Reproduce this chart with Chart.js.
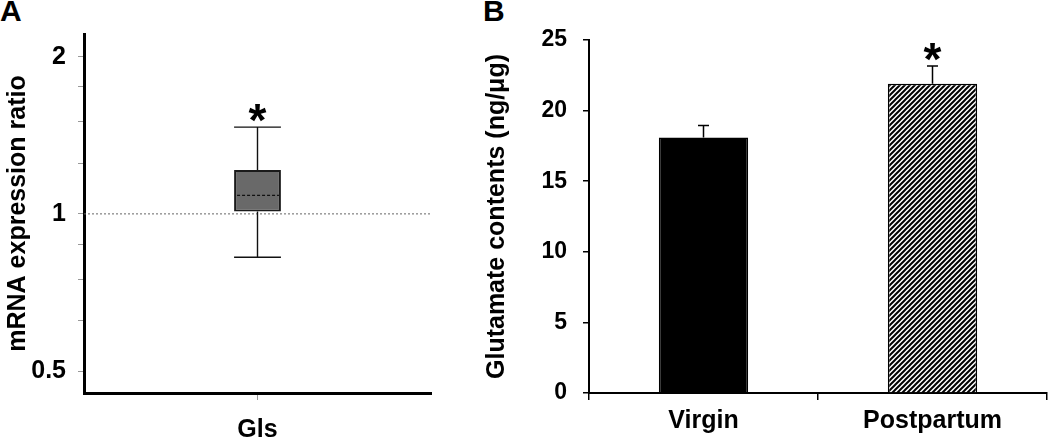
<!DOCTYPE html>
<html>
<head>
<meta charset="utf-8">
<script src="https://cdn.jsdelivr.net/npm/chart.js@4.4.0/dist/chart.umd.min.js"></script>
<style>
  body { margin: 0; background: #fff; width: 1050px; height: 438px; overflow: hidden; position: relative; font-family: "Liberation Sans", Arial, sans-serif; }
  canvas { position: absolute; top: 0; }
  #chartA { left: 0; }
  #chartB { left: 470px; }
  .panel { position: absolute; font-weight: bold; font-size: 30px; line-height: 30px; }
</style>
</head>
<body>
<div class="panel" style="left:0;top:-4px">A</div>
<div class="panel" style="left:483px;top:-4px">B</div>
<canvas id="chartA" width="450" height="438"></canvas>
<canvas id="chartB" width="580" height="438"></canvas>
<script>
// Panel A - box plot of mRNA expression ratio (log axis)
const geneLabels = ['Gls'];
const boxLow = [0.826];
const boxQ1 = [1.01];
const boxMedian = [1.085];
const boxQ3 = [1.214];
const boxHigh = [1.466];
const boxStars = [true];
const ratioRefLine = 1;
const ratioTicks = [0.5, 0.625, 0.75, 0.875, 1, 1.25, 1.5, 1.75, 2];
const ratioLabeled = [0.5, 1, 2];

// Panel B - glutamate contents, mean + SEM
const groupLabels = ['Virgin', 'Postpartum'];
const glutamateMean = [18.1, 21.9];
const glutamateSem = [0.85, 1.25];
const glutamateStars = [false, true];
const glutamateTicks = [0, 5, 10, 15, 20, 25];

const FONT = '"Liberation Sans", Arial, sans-serif';
Chart.defaults.font.family = FONT;
Chart.defaults.color = '#000';

function makeHatch() {
    const s = 5;
    const c = document.createElement('canvas');
    c.width = s; c.height = s;
    const g = c.getContext('2d');
    g.fillStyle = '#fff';
    g.fillRect(0, 0, s, s);
    g.strokeStyle = '#000';
    g.lineWidth = 2;
    g.beginPath();
    g.moveTo(-1, 1); g.lineTo(1, -1);
    g.moveTo(0, s); g.lineTo(s, 0);
    g.moveTo(s - 1, s + 1); g.lineTo(s + 1, s - 1);
    g.stroke();
    return g.createPattern(c, 'repeat');
}

function drawStar(ctx, x, yTop) {
    ctx.save();
    ctx.setLineDash([]);
    ctx.fillStyle = '#000';
    ctx.font = 'bold 46px ' + FONT;
    ctx.textAlign = 'center';
    ctx.textBaseline = 'alphabetic';
    ctx.fillText('*', x, yTop + 9);
    ctx.restore();
}

const boxPlugin = {
    id: 'boxParts',
    beforeDatasetsDraw(chart) {
        const { ctx, chartArea, scales: { y } } = chart;
        const py = y.getPixelForValue(ratioRefLine);
        ctx.save();
        ctx.strokeStyle = '#666';
        ctx.lineWidth = 1;
        ctx.setLineDash([2, 2]);
        ctx.beginPath();
        ctx.moveTo(chartArea.left, py);
        ctx.lineTo(chartArea.right, py);
        ctx.stroke();
        ctx.restore();
    },
    afterDatasetsDraw(chart) {
        const { ctx, scales: { y } } = chart;
        chart.getDatasetMeta(0).data.forEach((bar, i) => {
            const half = bar.width / 2;
            const top = y.getPixelForValue(boxQ3[i]);
            const bottom = y.getPixelForValue(boxQ1[i]);
            const hi = y.getPixelForValue(boxHigh[i]);
            const lo = y.getPixelForValue(boxLow[i]);
            const med = y.getPixelForValue(boxMedian[i]);
            ctx.save();
            ctx.strokeStyle = '#111';
            ctx.lineWidth = 1.4;
            ctx.beginPath();
            ctx.moveTo(bar.x, top); ctx.lineTo(bar.x, hi);
            ctx.moveTo(bar.x - half, hi); ctx.lineTo(bar.x + half, hi);
            ctx.moveTo(bar.x, bottom); ctx.lineTo(bar.x, lo);
            ctx.moveTo(bar.x - half, lo); ctx.lineTo(bar.x + half, lo);
            ctx.stroke();
            ctx.setLineDash([3, 2]);
            ctx.beginPath();
            ctx.moveTo(bar.x - half + 3, med);
            ctx.lineTo(bar.x + half - 2, med);
            ctx.stroke();
            if (boxStars[i]) drawStar(ctx, bar.x, hi);
            ctx.restore();
        });
    }
};

const errorPlugin = {
    id: 'errorBars',
    afterDatasetsDraw(chart) {
        const { ctx, scales: { y } } = chart;
        chart.getDatasetMeta(0).data.forEach((bar, i) => {
            const tip = y.getPixelForValue(glutamateMean[i] + glutamateSem[i]);
            ctx.save();
            ctx.strokeStyle = '#000';
            ctx.lineWidth = 1.5;
            ctx.beginPath();
            ctx.moveTo(bar.x, bar.y);
            ctx.lineTo(bar.x, tip);
            ctx.moveTo(bar.x - 5.5, tip);
            ctx.lineTo(bar.x + 5.5, tip);
            ctx.stroke();
            ctx.restore();
            if (glutamateStars[i]) drawStar(ctx, bar.x, tip);
        });
    }
};

new Chart(document.getElementById('chartA'), {
    type: 'bar',
    data: {
        labels: geneLabels,
        datasets: [{
            data: geneLabels.map((_, i) => [boxQ1[i], boxQ3[i]]),
            backgroundColor: '#696969',
            borderColor: '#1a1a1a',
            borderWidth: 2,
            borderSkipped: false,
            barPercentage: 0.135,
            categoryPercentage: 1
        }]
    },
    options: {
        responsive: false,
        animation: false,
        layout: { padding: { top: 34, right: 19, left: 0, bottom: 0 } },
        plugins: { legend: { display: false }, tooltip: { enabled: false } },
        scales: {
            x: {
                offset: true,
                grid: { offset: false, drawOnChartArea: false, color: '#999', tickLength: 7 },
                border: { color: '#000', width: 3 },
                ticks: { color: '#000', font: { size: 25, weight: 'bold' }, padding: 15 },
                afterFit: (s) => { s.height = 45; }
            },
            y: {
                type: 'logarithmic',
                min: 0.454,
                max: 2.21,
                afterBuildTicks: (s) => { s.ticks = ratioTicks.map(v => ({ value: v })); },
                ticks: {
                    autoSkip: false,
                    color: '#000',
                    font: { size: 25, weight: 'bold' },
                    padding: 12,
                    callback: (v) => ratioLabeled.includes(v) ? String(v) : ''
                },
                grid: { drawOnChartArea: false, color: '#999', tickLength: 6 },
                border: { color: '#000', width: 3 },
                title: { display: true, text: 'mRNA expression ratio', color: '#000', font: { size: 25, weight: 'bold' }, padding: { top: 3, bottom: 0 } },
                afterFit: (s) => { s.width = 84; }
            }
        }
    },
    plugins: [boxPlugin]
});

new Chart(document.getElementById('chartB'), {
    type: 'bar',
    data: {
        labels: groupLabels,
        datasets: [{
            data: glutamateMean,
            backgroundColor: ['#000', makeHatch()],
            borderColor: '#000',
            borderWidth: 1.5,
            barPercentage: 0.39,
            categoryPercentage: 1
        }]
    },
    options: {
        responsive: false,
        animation: false,
        layout: { padding: { top: 40, right: 3, left: 0, bottom: 0 } },
        plugins: { legend: { display: false }, tooltip: { enabled: false } },
        scales: {
            x: {
                grid: { offset: true, drawOnChartArea: false, color: '#000', lineWidth: 1.5, tickLength: 7 },
                border: { color: '#000', width: 2 },
                ticks: { color: '#000', font: { size: 25, weight: 'bold' }, padding: 6 },
                afterFit: (s) => { s.height = 45; }
            },
            y: {
                min: 0,
                max: 25,
                afterBuildTicks: (s) => { s.ticks = glutamateTicks.map(v => ({ value: v })); },
                ticks: { color: '#000', font: { size: 23, weight: 'bold' }, padding: 16 },
                grid: { drawOnChartArea: false, color: '#000', lineWidth: 1.5, tickLength: 6 },
                border: { color: '#000', width: 2 },
                title: { display: true, text: 'Glutamate contents (ng/μg)', color: '#000', font: { size: 25, weight: 'bold' }, padding: { top: 12, bottom: 0 } },
                afterFit: (s) => { s.width = 119; }
            }
        }
    },
    plugins: [errorPlugin]
});
</script>
</body>
</html>
